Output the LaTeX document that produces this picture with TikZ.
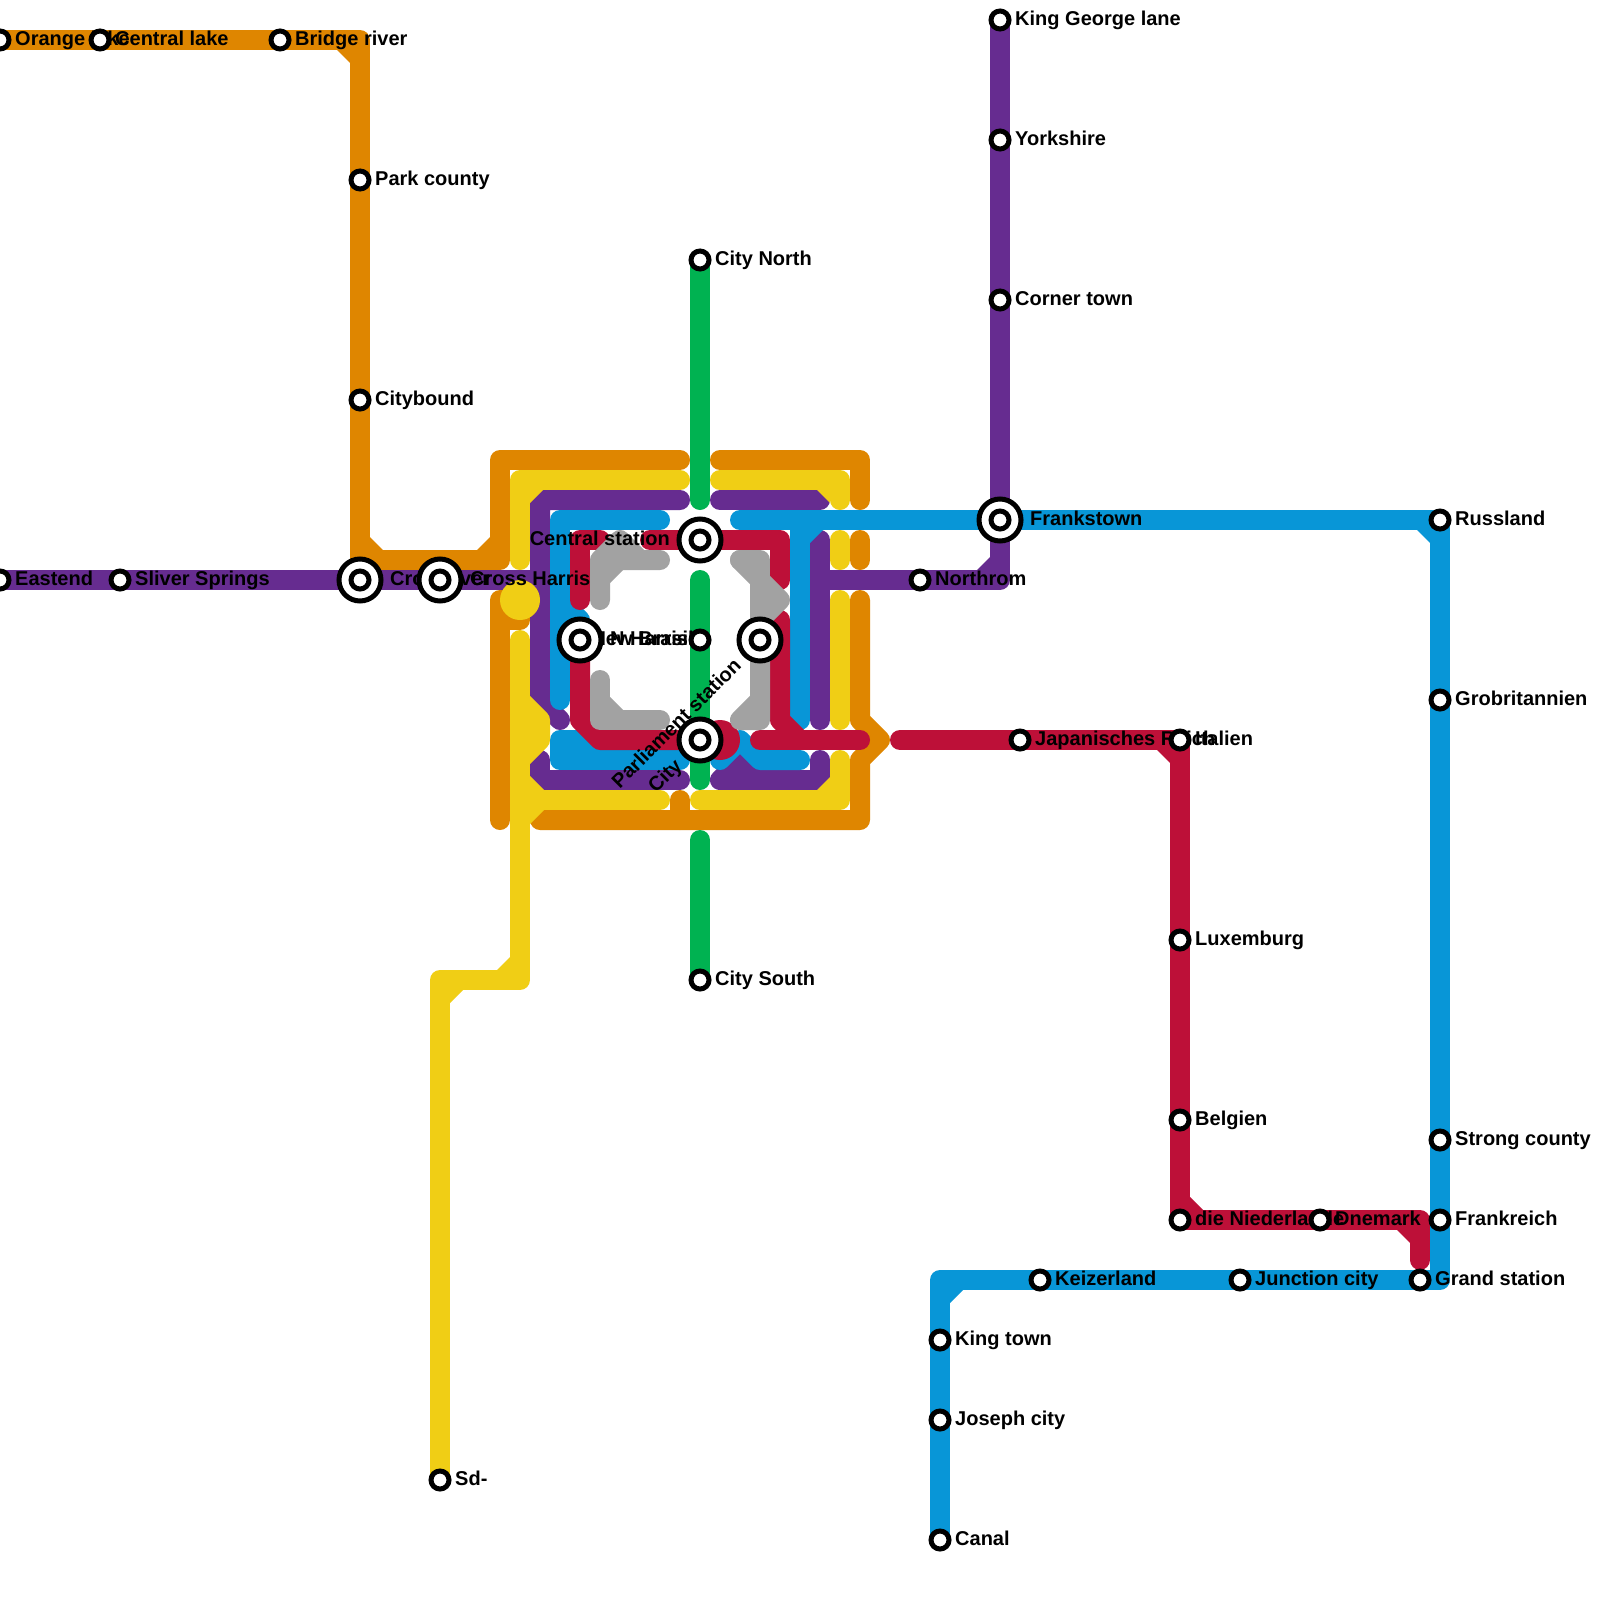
\documentclass[tikz,border=0pt]{standalone}
\usepackage{fontspec}
\setmainfont{Liberation Sans}
\definecolor{morange}{HTML}{DF8600}
\definecolor{myellow}{HTML}{F0CE15}
\definecolor{mpurple}{HTML}{662C90}
\definecolor{mblue}{HTML}{0896D7}
\definecolor{mred}{HTML}{BD1038}
\definecolor{mgreen}{HTML}{00B251}
\definecolor{mgray}{HTML}{A2A2A2}
\tikzset{
  rail/.style={line width=20pt,line cap=round,line join=round},
  stop/.style={circle,draw=black,fill=white,line width=5pt,inner sep=0pt,minimum size=18pt},
  hub/.style={circle,draw=black,fill=white,line width=5pt,inner sep=0pt,minimum size=42pt},
  lab/.style={font=\fontsize{20}{24}\selectfont\bfseries,inner sep=0pt,text=black}
}
% label to the right of a station: name, offset, text
\newcommand{\lbl}[3]{\node[lab,anchor=base west] (l#1) at ([xshift=#2pt,yshift=-5.5pt]#1) {#3};}
\newcommand{\sstop}[1]{\node[stop] (n#1) at (#1) {};}
\newcommand{\shub}[1]{\node[hub] (n#1) at (#1) {}; \node[stop] (m#1) at (#1) {};}
\begin{document}
\begin{tikzpicture}[x=1pt,y=-1pt]
\useasboundingbox (0,0) rectangle (1600,1600);
\fill[white] (0,0) rectangle (1600,1600);
% station positions
\coordinate (orangelake) at (0,40);
\coordinate (centrallake) at (100,40);
\coordinate (bridgeriver) at (280,40);
\coordinate (parkcounty) at (360,180);
\coordinate (citybound) at (360,400);
\coordinate (eastend) at (0,580);
\coordinate (sliver) at (120,580);
\coordinate (crossriver) at (360,580);
\coordinate (crossharris) at (440,580);
\coordinate (sd) at (440,1480);
\coordinate (newharris) at (580,640);
\coordinate (central) at (700,540);
\coordinate (citynorth) at (700,260);
\coordinate (brasil) at (700,640);
\coordinate (parliament) at (700,740);
\coordinate (citysouth) at (700,980);
\coordinate (hubeast) at (760,640);
\coordinate (northrom) at (920,580);
\coordinate (kinggeorge) at (1000,20);
\coordinate (yorkshire) at (1000,140);
\coordinate (cornertown) at (1000,300);
\coordinate (frankstown) at (1000,520);
\coordinate (japan) at (1020,740);
\coordinate (italien) at (1180,740);
\coordinate (luxemburg) at (1180,940);
\coordinate (belgien) at (1180,1120);
\coordinate (niederlande) at (1180,1220);
\coordinate (dnemark) at (1320,1220);
\coordinate (russland) at (1440,520);
\coordinate (grob) at (1440,700);
\coordinate (strong) at (1440,1140);
\coordinate (frankreich) at (1440,1220);
\coordinate (grand) at (1420,1280);
\coordinate (junction) at (1240,1280);
\coordinate (keizer) at (1040,1280);
\coordinate (kingtown) at (940,1340);
\coordinate (joseph) at (940,1420);
\coordinate (canal) at (940,1540);
% purple
\begin{scope}[mpurple]
\draw[rail] (eastend) -- (540,580);
\draw[rail] (680,500) -- (540,500) -- (540,700) -- (560,720);
\draw[rail] (720,500) -- (820,500);
\draw[rail] (820,540) -- (820,720);
\draw[rail] (820,580) -- (1000,580) -- (frankstown) -- (kinggeorge);
\fill (990,570) -- (977,570) -- (990,557) -- cycle;
\draw[rail] (680,780) -- (540,780) -- (540,760);
\draw[rail] (820,760) -- (820,780) -- (720,780) -- (740,760) -- (760,780);
\end{scope}
% blue
\begin{scope}[mblue]
\draw[rail] (660,520) -- (560,520) -- (560,700);
\draw[rail] (560,600) -- (580,620) -- (newharris);
\draw[rail] (600,740) -- (560,740) -- (560,760) -- (680,760);
\draw[rail] (720,760) -- (740,740) -- (760,760) -- (800,760);
\draw[rail] (740,520) -- (1440,520) -- (1440,1280) -- (940,1280) -- (canal);
\fill (1430,530) -- (1417,530) -- (1430,543) -- cycle;
\fill (950,1290) -- (963,1290) -- (950,1303) -- cycle;
\draw[rail] (800,520) -- (800,720);
\fill (810,530) -- (823,530) -- (810,543) -- cycle;
\end{scope}
% orange
\begin{scope}[morange]
\draw[rail] (orangelake) -- (360,40) -- (360,560) -- (500,560) -- (500,460) -- (680,460);
\fill (350,50) -- (337,50) -- (350,63) -- cycle;
\fill (370,550) -- (383,550) -- (370,537) -- cycle;
\fill (490,550) -- (477,550) -- (490,537) -- cycle;
\draw[rail] (720,460) -- (860,460) -- (860,500);
\draw[rail] (860,540) -- (860,560);
\draw[rail] (500,820) -- (500,600) -- (520,600) -- (520,620) -- (500,620);
\draw[rail] (860,600) -- (860,720) -- (880,740) -- (860,760) -- (860,820) -- (540,820);
\draw[rail] (680,800) -- (680,820);
\end{scope}
% yellow
\begin{scope}[myellow]
\draw[rail] (680,480) -- (520,480) -- (520,560);
\fill (530,490) -- (543,490) -- (530,503) -- cycle;
\fill (520,600) circle[radius=20pt];
\draw[rail] (720,480) -- (840,480) -- (840,500);
\fill (830,490) -- (817,490) -- (830,503) -- cycle;
\draw[rail] (840,540) -- (840,560);
\draw[rail] (840,600) -- (840,720);
\draw[rail] (840,760) -- (840,800) -- (700,800);
\fill (830,790) -- (817,790) -- (830,777) -- cycle;
\draw[rail] (520,640) -- (520,980) -- (440,980) -- (sd);
\fill (510,970) -- (497,970) -- (510,957) -- cycle;
\fill (450,990) -- (463,990) -- (450,1003) -- cycle;
\draw[rail] (520,700) -- (540,720) -- (540,740) -- (520,760);
\draw[rail] (520,780) -- (540,800) -- (520,820);
\draw[rail] (540,800) -- (660,800);
\end{scope}
% red
\begin{scope}[mred]
\draw[rail] (580,600) -- (580,540) -- (600,540);
\draw[rail] (650,540) -- (780,540) -- (780,580);
\draw[rail] (newharris) -- (580,720) -- (600,740) -- (parliament);
\fill (720,740) circle[radius=20pt];
\draw[rail] (780,620) -- (780,720) -- (800,740);
\draw[rail] (760,740) -- (860,740);
\draw[rail] (900,740) -- (1180,740) -- (1180,1220) -- (1420,1220) -- (1420,1260);
\fill (1170,750) -- (1157,750) -- (1170,763) -- cycle;
\fill (1190,1210) -- (1203,1210) -- (1190,1197) -- cycle;
\fill (1410,1230) -- (1397,1230) -- (1410,1243) -- cycle;
\end{scope}
% gray
\begin{scope}[mgray]
\draw[rail] (600,600) -- (600,560) -- (620,540) -- (640,560) -- (660,560) -- (600,560);
\fill (610,570) -- (623,570) -- (610,583) -- cycle;
\draw[rail] (600,680) -- (600,720) -- (660,720);
\fill (610,710) -- (610,697) -- (623,710) -- cycle;
\draw[rail] (740,560) -- (760,560) -- (hubeast);
\draw[rail] (740,560) -- (760,580) -- (780,600) -- (760,620);
\draw[rail] (760,700) -- (740,720) -- (760,720) -- (760,660);
\end{scope}
% green
\begin{scope}[mgreen]
\draw[rail] (citynorth) -- (700,500);
\draw[rail] (700,580) -- (700,780);
\draw[rail] (700,840) -- (citysouth);
\end{scope}
% labels
\lbl{orangelake}{15}{Orange lake}
\lbl{centrallake}{15}{Central lake}
\lbl{bridgeriver}{15}{Bridge river}
\lbl{parkcounty}{15}{Park county}
\lbl{citybound}{15}{Citybound}
\lbl{eastend}{15}{Eastend}
\lbl{sliver}{15}{Sliver Springs}
\lbl{crossriver}{30}{Crossriver}
\lbl{crossharris}{30}{Cross Harris}
\lbl{sd}{15}{Sd-}
\lbl{newharris}{30}{N Harris}
\lbl{citynorth}{15}{City North}
\lbl{citysouth}{15}{City South}
\lbl{northrom}{15}{Northrom}
\lbl{kinggeorge}{15}{King George lane}
\lbl{yorkshire}{15}{Yorkshire}
\lbl{cornertown}{15}{Corner town}
\lbl{frankstown}{30}{Frankstown}
\lbl{japan}{15}{Japanisches Reich}
\lbl{italien}{15}{Italien}
\lbl{luxemburg}{15}{Luxemburg}
\lbl{belgien}{15}{Belgien}
\lbl{niederlande}{15}{die Niederlande}
\lbl{dnemark}{15}{Dnemark}
\lbl{russland}{15}{Russland}
\lbl{grob}{15}{Grobritannien}
\lbl{strong}{15}{Strong county}
\lbl{frankreich}{15}{Frankreich}
\lbl{grand}{15}{Grand station}
\lbl{junction}{15}{Junction city}
\lbl{keizer}{15}{Keizerland}
\lbl{kingtown}{15}{King town}
\lbl{joseph}{15}{Joseph city}
\lbl{canal}{15}{Canal}
\node[lab,anchor=base east] (lcentral) at ([xshift=-30pt,yshift=-5.5pt]central) {Central station};
\node[lab,anchor=base east] (lbrasil) at ([xshift=-6pt,yshift=-5.5pt]brasil) {New Brasil};
\node[lab,rotate=45,anchor=center] (lparl) at (676,723) {Parliament station};
\node[lab,rotate=45,anchor=base east] (lcity) at ([xshift=-17pt,yshift=-27pt]parliament) {City};
% stations
\sstop{orangelake}\sstop{centrallake}\sstop{bridgeriver}\sstop{parkcounty}\sstop{citybound}
\sstop{eastend}\sstop{sliver}\shub{crossriver}\shub{crossharris}\sstop{sd}
\shub{newharris}\shub{central}\sstop{citynorth}\sstop{brasil}\shub{parliament}\sstop{citysouth}
\shub{hubeast}\sstop{northrom}\sstop{kinggeorge}\sstop{yorkshire}\sstop{cornertown}\shub{frankstown}
\sstop{japan}\sstop{italien}\sstop{luxemburg}\sstop{belgien}\sstop{niederlande}\sstop{dnemark}
\sstop{russland}\sstop{grob}\sstop{strong}\sstop{frankreich}\sstop{grand}\sstop{junction}\sstop{keizer}
\sstop{kingtown}\sstop{joseph}\sstop{canal}
\end{tikzpicture}
\end{document}
